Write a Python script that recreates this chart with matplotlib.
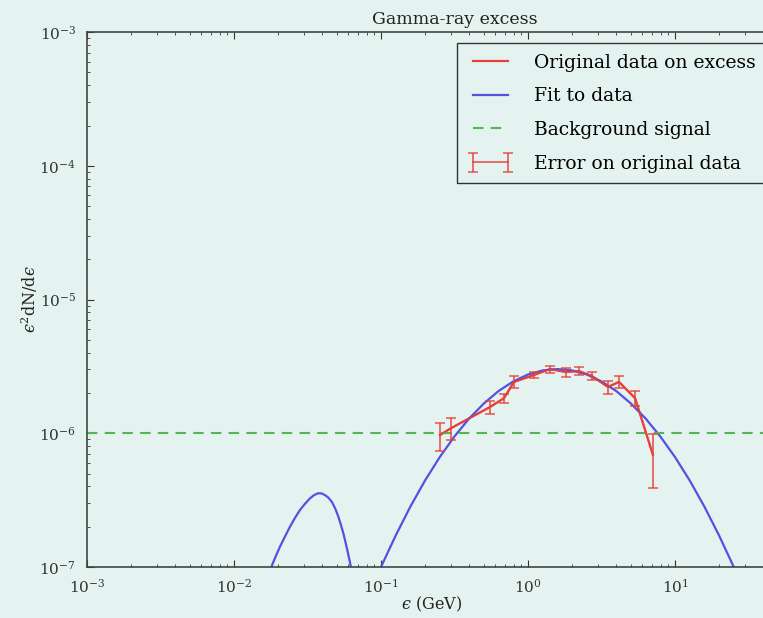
import matplotlib
matplotlib.use("Agg")
import matplotlib.pyplot as plt

plt.rcParams['font.family'] = ['DejaVu Serif']
plt.rcParams['mathtext.fontset'] = 'dejavuserif'

BG = '#e4f3ef'

# measured excess spectrum (GeV, e^2 dN/de)
energy = [0.252, 0.299, 0.551, 0.687, 0.803, 1.10, 1.41, 1.81, 2.22, 2.72,
          3.50, 4.16, 5.35, 7.08]
flux = [9.7e-7, 1.09e-6, 1.57e-6, 1.83e-6, 2.42e-6, 2.73e-6, 3.02e-6, 2.87e-6,
        2.92e-6, 2.68e-6, 2.22e-6, 2.42e-6, 1.83e-6, 6.9e-7]
flux_err = [2.3e-7, 2.0e-7, 1.8e-7, 1.5e-7, 2.5e-7, 1.4e-7, 1.9e-7, 2.2e-7,
            2.0e-7, 1.7e-7, 2.5e-7, 2.5e-7, 2.4e-7, 3.0e-7]

# fitted curve, low-energy lobe and main lobe (curve is negative in between)
fit_e_low = [0.01738, 0.01807, 0.01928, 0.02056, 0.02223, 0.02404, 0.02600,
             0.02812, 0.03041, 0.03289, 0.03508, 0.03741, 0.03945, 0.04159,
             0.04385, 0.04624, 0.04875, 0.05129, 0.05333, 0.05546, 0.05902,
             0.06223, 0.06383]
fit_f_low = [7.0e-8, 1.02e-7, 1.21e-7, 1.42e-7, 1.69e-7, 2.00e-7, 2.33e-7,
             2.67e-7, 2.97e-7, 3.26e-7, 3.45e-7, 3.56e-7, 3.55e-7, 3.45e-7,
             3.30e-7, 3.08e-7, 2.75e-7, 2.38e-7, 2.07e-7, 1.79e-7, 1.34e-7,
             1.02e-7, 7.0e-8]
fit_e_main = [0.0891, 0.1, 0.1259, 0.1585, 0.1995, 0.2512, 0.3162, 0.3981,
              0.5012, 0.6310, 0.7943, 1.0, 1.259, 1.585, 1.995, 2.512, 3.162,
              3.981, 5.012, 6.310, 7.943, 10.0, 12.59, 15.85, 19.95, 25.12, 28.18]
fit_f_main = [7.5e-8, 1.0e-7, 1.72e-7, 2.83e-7, 4.44e-7, 6.64e-7, 9.47e-7,
              1.29e-6, 1.67e-6, 2.07e-6, 2.44e-6, 2.75e-6, 2.95e-6, 3.02e-6,
              2.95e-6, 2.75e-6, 2.44e-6, 2.07e-6, 1.67e-6, 1.29e-6, 9.47e-7,
              6.64e-7, 4.44e-7, 2.83e-7, 1.72e-7, 1.0e-7, 7.5e-8]

background = 1e-6

fig = plt.figure(figsize=(7.63, 6.18), dpi=100, facecolor=BG)
ax = fig.add_axes([0.1140, 0.0825, 0.9633, 0.8657], facecolor=BG)

red = '#e8403a'
blue = '#5252e0'
green = '#55b455'

ax.plot(energy, flux, color=red, lw=1.6, label='Original data on excess')
ax.plot(fit_e_low, fit_f_low, color=blue, lw=1.6, label='Fit to data')
ax.plot(fit_e_main, fit_f_main, color=blue, lw=1.6)
ax.axhline(background, color=green, lw=1.5, ls=(0, (5, 3.5)),
           label='Background signal')
ax.errorbar(energy, flux, yerr=flux_err, color=red, alpha=0.75, lw=1.4,
            capsize=3.5, capthick=1.3, label='Error on original data')

ax.set_xscale('log')
ax.set_yscale('log')
ax.set_xlim(1e-3, 1e2)
ax.set_ylim(1e-7, 1e-3)
ax.set_xticks([1e-3, 1e-2, 1e-1, 1e0, 1e1])

ax.tick_params(which='both', direction='in', top=True, right=True,
               labelsize=11, colors='#333333')
ax.tick_params(which='major', length=5, pad=8)
ax.tick_params(which='minor', length=2.5)
for s in ax.spines.values():
    s.set_color('#444444')
    s.set_linewidth(1.2)

ax.set_title('Gamma-ray excess', fontsize=12.5, pad=6, color='#222222')
ax.set_xlabel('$\u03f5$ (GeV)', fontsize=11.5, color='#222222')
ax.xaxis.set_label_coords(0.469, -0.052)
ax.set_ylabel('$\u03f5^2$dN/d$\u03f5$', fontsize=11.5, color='#222222')
ax.yaxis.set_label_coords(-0.064, 0.5)

leg = ax.legend(loc='upper left', bbox_to_anchor=(0.503, 0.979),
                borderaxespad=0, fancybox=False, numpoints=2, fontsize=13.5,
                handlelength=2.5, handletextpad=1.05, labelspacing=0.84,
                borderpad=0.55, facecolor=BG, framealpha=1)
leg.get_frame().set_edgecolor('#333333')
leg.get_frame().set_linewidth(1.0)

fig.savefig('out.png', dpi=100, facecolor=BG)
